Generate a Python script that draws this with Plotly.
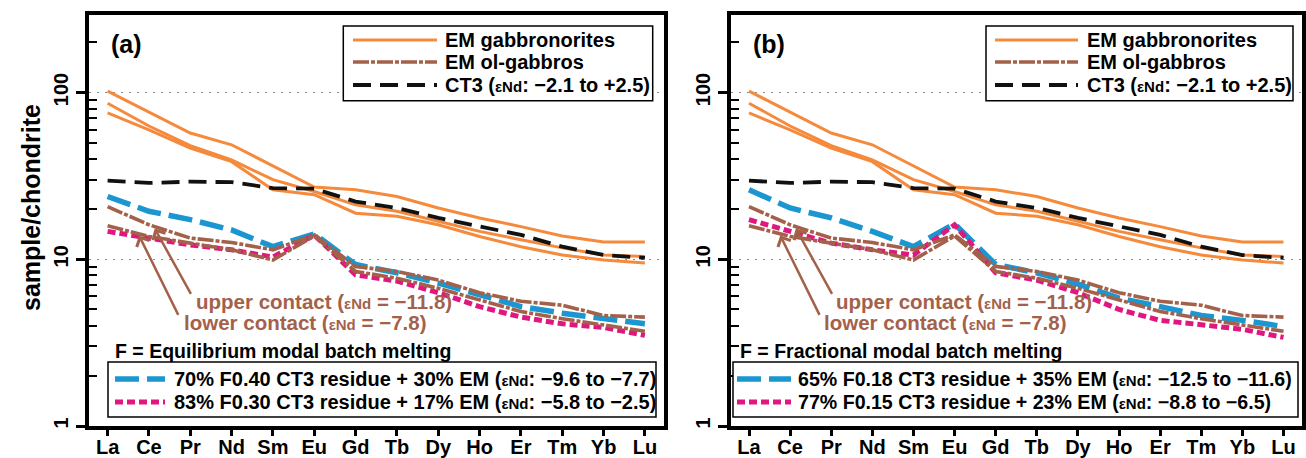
import math
import plotly.graph_objects as go

# ---------------- data ----------------
elements = ["La", "Ce", "Pr", "Nd", "Sm", "Eu", "Gd", "Tb", "Dy", "Ho", "Er", "Tm", "Yb", "Lu"]

gabbronorite_1 = [102, 76, 57.2, 48.6, 36.4, 27.1, 26.1, 23.8, 20.3, 17.7, 15.7, 13.8, 12.7, 12.7]
gabbronorite_2 = [86.3, 63, 48, 39.5, 30.0, 25.5, 21.2, 19.4, 16.9, 14.7, 13.1, 11.7, 10.6, 10.4]
gabbronorite_3 = [75.4, 59.7, 46.4, 38.5, 26.1, 24.4, 18.9, 18.1, 16.1, 13.7, 11.9, 10.6, 9.9, 9.5]

olgabbro_upper = [20.7, 16.1, 13.4, 12.6, 11.4, 14.0, 9.06, 8.45, 7.5, 6.3, 5.6, 5.3, 4.6, 4.5]
olgabbro_lower = [15.9, 13.7, 12.5, 11.4, 9.9, 13.8, 8.45, 7.7, 6.7, 5.7, 4.86, 4.4, 4.05, 3.7]

ct3 = [29.6, 28.7, 29.2, 29.0, 26.7, 26.5, 22.2, 20.3, 17.7, 15.7, 14.0, 11.9, 10.6, 10.2]

mix_a_blue = [23.8, 19.4, 17.3, 15.0, 11.9, 14.2, 9.3, 8.3, 7.2, 6.1, 5.2, 4.75, 4.4, 4.1]
mix_a_magenta = [14.7, 13.4, 12.2, 11.4, 10.3, 14.0, 8.07, 7.4, 6.3, 5.2, 4.5, 4.1, 3.9, 3.5]
mix_b_blue = [26.1, 20.3, 17.7, 14.7, 11.9, 16.3, 9.3, 8.3, 7.1, 5.85, 5.2, 4.6, 4.3, 3.95]
mix_b_magenta = [17.3, 14.7, 12.5, 11.4, 10.6, 16.1, 8.3, 7.5, 6.3, 5.0, 4.3, 4.05, 3.8, 3.4]

legend_top = ["EM gabbronorites", "EM ol-gabbros", "CT3 (εNd: −2.1 to +2.5)"]
panel_labels = ["(a)", "(b)"]
melting_titles = ["F = Equilibrium modal batch melting", "F = Fractional modal batch melting"]
mix_labels_a = ["70% F0.40 CT3 residue + 30% EM (εNd: −9.6 to −7.7)",
                "83% F0.30 CT3 residue + 17% EM (εNd: −5.8 to −2.5)"]
mix_labels_b = ["65% F0.18 CT3 residue + 35% EM (εNd: −12.5 to −11.6)",
                "77% F0.15 CT3 residue + 23% EM (εNd: −8.8 to −6.5)"]
contact_labels = ["upper contact (εNd = −11.8)", "lower contact (εNd = −7.8)"]

# ---------------- styling ----------------
W, H = 1306, 458
FONT = "Liberation Sans, Arial, Helvetica, sans-serif"
ORANGE = "#F68A3C"
BROWN = "#A4614A"
BLUE = "#1B96D0"
MAGENTA = "#E0177F"
BLACK = "#111111"

ST = {
    "gab": dict(color=ORANGE, width=3, dash="solid"),
    "olg": dict(color=BROWN, width=3.6, dash="16px,2px,4px,2px"),
    "ct3": dict(color=BLACK, width=3.8, dash="18px,9px"),
    "blue": dict(color=BLUE, width=5.5, dash="24px,8px"),
    "mag": dict(color=MAGENTA, width=5, dash="8px,4px"),
}


def px(x):
    return x / W


def py(y):
    return 1 - y / H


def eps(s, size=15):
    return s.replace("εNd", f"<span style='font-size:{size}px'>εNd</span>")


def bfont(size, color="black"):
    return dict(family=FONT, size=size, color=color, weight="bold")


YTOP = 2.465
XR = [-0.45, 13.45]
ydom = [py(426), py(15)]
xdoms = [[px(89), px(663.5)], [px(730.5), px(1302)]]
minor_vals = [2, 3, 4, 5, 6, 7, 8, 9, 20, 30, 40, 50, 60, 70, 80, 90, 200]

fig = go.Figure()

panels = [
    dict(xa="x", ya="y", blue=mix_a_blue, mag=mix_a_magenta, mixlab=mix_labels_a),
    dict(xa="x2", ya="y2", blue=mix_b_blue, mag=mix_b_magenta, mixlab=mix_labels_b),
]

for p in panels:
    for g in (gabbronorite_1, gabbronorite_2, gabbronorite_3):
        fig.add_trace(go.Scatter(x=elements, y=g, mode="lines", line=ST["gab"],
                                 xaxis=p["xa"], yaxis=p["ya"], showlegend=False, hoverinfo="skip"))
    fig.add_trace(go.Scatter(x=elements, y=ct3, mode="lines", line=ST["ct3"],
                             xaxis=p["xa"], yaxis=p["ya"], showlegend=False, hoverinfo="skip"))
    fig.add_trace(go.Scatter(x=elements, y=p["blue"], mode="lines", line=ST["blue"],
                             xaxis=p["xa"], yaxis=p["ya"], showlegend=False, hoverinfo="skip"))
    fig.add_trace(go.Scatter(x=elements, y=p["mag"], mode="lines", line=ST["mag"],
                             xaxis=p["xa"], yaxis=p["ya"], showlegend=False, hoverinfo="skip"))
    for g in (olgabbro_upper, olgabbro_lower):
        fig.add_trace(go.Scatter(x=elements, y=g, mode="lines", line=ST["olg"],
                                 xaxis=p["xa"], yaxis=p["ya"], showlegend=False, hoverinfo="skip"))


def xaxis_main(dom, anchor):
    return dict(domain=dom, anchor=anchor, type="category", range=XR, ticks="outside", ticklen=6,
                tickwidth=2.5, tickcolor="black", showline=True, linewidth=4, linecolor="black",
                mirror=True, showgrid=False, zeroline=False, tickfont=bfont(20), automargin=False,
                ticklabelstandoff=-6)


def xaxis_top(over, anchor):
    return dict(overlaying=over, anchor=anchor, side="top", type="linear", range=XR,
                tickmode="array", tickvals=list(range(len(elements))), ticks="inside", ticklen=8,
                tickwidth=2.5, tickcolor="black", showticklabels=False, showline=False,
                showgrid=False, zeroline=False, automargin=False)


def yaxis_main(anchor):
    return dict(domain=ydom, anchor=anchor, type="log", range=[0, YTOP], tickmode="array",
                tickvals=[1, 10, 100], ticktext=["1", "10", "100"], ticks="outside", ticklen=9,
                tickwidth=2.5, tickcolor="black", tickangle=-90, showline=True, linewidth=4,
                linecolor="black", mirror=True, showgrid=True, gridcolor="#8a8a8a", gridwidth=1.4,
                griddash="2px,6px", zeroline=False, tickfont=bfont(20), automargin=False,
                minor=dict(tickmode="array", tickvals=minor_vals, ticks="inside", ticklen=8,
                           tickwidth=2, tickcolor="black", showgrid=False))


def yaxis_right(over, anchor):
    return dict(overlaying=over, anchor=anchor, side="right", type="log", range=[0, YTOP],
                tickmode="array", tickvals=[1, 10, 100], ticks="inside", ticklen=8, tickwidth=2.5,
                tickcolor="black", showticklabels=False, showline=False, showgrid=False,
                zeroline=False, automargin=False,
                minor=dict(tickmode="array", tickvals=minor_vals, ticks="inside", ticklen=8,
                           tickwidth=2, tickcolor="black", showgrid=False))


shapes = []
annotations = []

# panel-specific decoration positions (pixels)
deco = [
    dict(lab_x=109, top_box=(343.3, 652.7), top_s=(353, 437), top_t=443,
         bot_box=(108, 656), bot_s=(115, 165), bot_t=172, bot_fs=20, ftxt=113,
         up_t=194, lo_t=182),
    dict(lab_x=751, top_box=(986, 1293), top_s=(995, 1078), top_t=1085,
         bot_box=(733, 1298), bot_s=(737, 791), bot_t=796, bot_fs=19.6, ftxt=738,
         up_t=834, lo_t=822),
]

for i, (p, d) in enumerate(zip(panels, deco)):
    annotations.append(dict(text=panel_labels[i], x=px(d["lab_x"]), y=py(44), xref="paper", yref="paper",
                            xanchor="left", yanchor="middle", showarrow=False, font=bfont(25)))
    # top legend
    shapes.append(dict(type="rect", xref="paper", yref="paper", x0=px(d["top_box"][0]), x1=px(d["top_box"][1]),
                       y0=py(26), y1=py(100.7), line=dict(color="black", width=1.5), fillcolor="white",
                       layer="above"))
    for k, (key, ylev) in enumerate(zip(["gab", "olg", "ct3"], [40, 62, 85])):
        shapes.append(dict(type="line", xref="paper", yref="paper", x0=px(d["top_s"][0]), x1=px(d["top_s"][1]),
                           y0=py(ylev), y1=py(ylev), line=ST[key], layer="above"))
        annotations.append(dict(text=eps(legend_top[k]), x=px(d["top_t"]), y=py(ylev), xref="paper", yref="paper",
                                xanchor="left", yanchor="middle", showarrow=False, font=bfont(20)))
    # melting title
    annotations.append(dict(text=melting_titles[i], x=px(d["ftxt"]), y=py(351), xref="paper", yref="paper",
                            xanchor="left", yanchor="middle", showarrow=False, font=bfont(19.5)))
    # bottom legend
    shapes.append(dict(type="rect", xref="paper", yref="paper", x0=px(d["bot_box"][0]), x1=px(d["bot_box"][1]),
                       y0=py(362), y1=py(417), line=dict(color="black", width=1.5), fillcolor="white",
                       layer="above"))
    for k, (key, ylev) in enumerate(zip(["blue", "mag"], [379, 402])):
        shapes.append(dict(type="line", xref="paper", yref="paper", x0=px(d["bot_s"][0]), x1=px(d["bot_s"][1]),
                           y0=py(ylev), y1=py(ylev), line=ST[key], layer="above"))
        annotations.append(dict(text=eps(p["mixlab"][k]), x=px(d["bot_t"]), y=py(ylev), xref="paper",
                                yref="paper", xanchor="left", yanchor="middle", showarrow=False,
                                font=bfont(d["bot_fs"])))
    # contact labels
    annotations.append(dict(text=eps(contact_labels[0], 15), x=px(d["up_t"]), y=py(301), xref="paper",
                            yref="paper", xanchor="left", yanchor="middle", showarrow=False,
                            font=bfont(20.5, BROWN)))
    annotations.append(dict(text=eps(contact_labels[1], 15), x=px(d["lo_t"]), y=py(322), xref="paper",
                            yref="paper", xanchor="left", yanchor="middle", showarrow=False,
                            font=bfont(20.5, BROWN)))
    # arrows to the ol-gabbro lines
    annotations.append(dict(text="", x=1.14, y=math.log10(15.3), xref=p["xa"], yref=p["ya"], showarrow=True,
                            ax=37, ay=67, arrowhead=4, arrowsize=1.1, arrowwidth=2.5, arrowcolor=BROWN,
                            standoff=0))
    annotations.append(dict(text="", x=0.76, y=math.log10(13.9), xref=p["xa"], yref=p["ya"], showarrow=True,
                            ax=40, ay=81, arrowhead=4, arrowsize=1.1, arrowwidth=2.5, arrowcolor=BROWN,
                            standoff=0))

# y-axis title
annotations.append(dict(text="sample/chondrite", x=px(31), y=py(208), xref="paper", yref="paper",
                        xanchor="center", yanchor="middle", textangle=-90, showarrow=False, font=bfont(25)))

fig.update_layout(
    width=W, height=H, margin=dict(l=0, r=0, t=0, b=0),
    paper_bgcolor="white", plot_bgcolor="white", showlegend=False,
    font=dict(family=FONT, color="black"),
    xaxis=xaxis_main(xdoms[0], "y"), yaxis=yaxis_main("x"),
    xaxis2=xaxis_main(xdoms[1], "y2"), yaxis2=yaxis_main("x2"),
    xaxis3=xaxis_top("x", "y"), xaxis4=xaxis_top("x2", "y2"),
    yaxis3=yaxis_right("y", "x"), yaxis4=yaxis_right("y2", "x2"),
    shapes=shapes, annotations=annotations,
)

fig.write_html("out.html")
